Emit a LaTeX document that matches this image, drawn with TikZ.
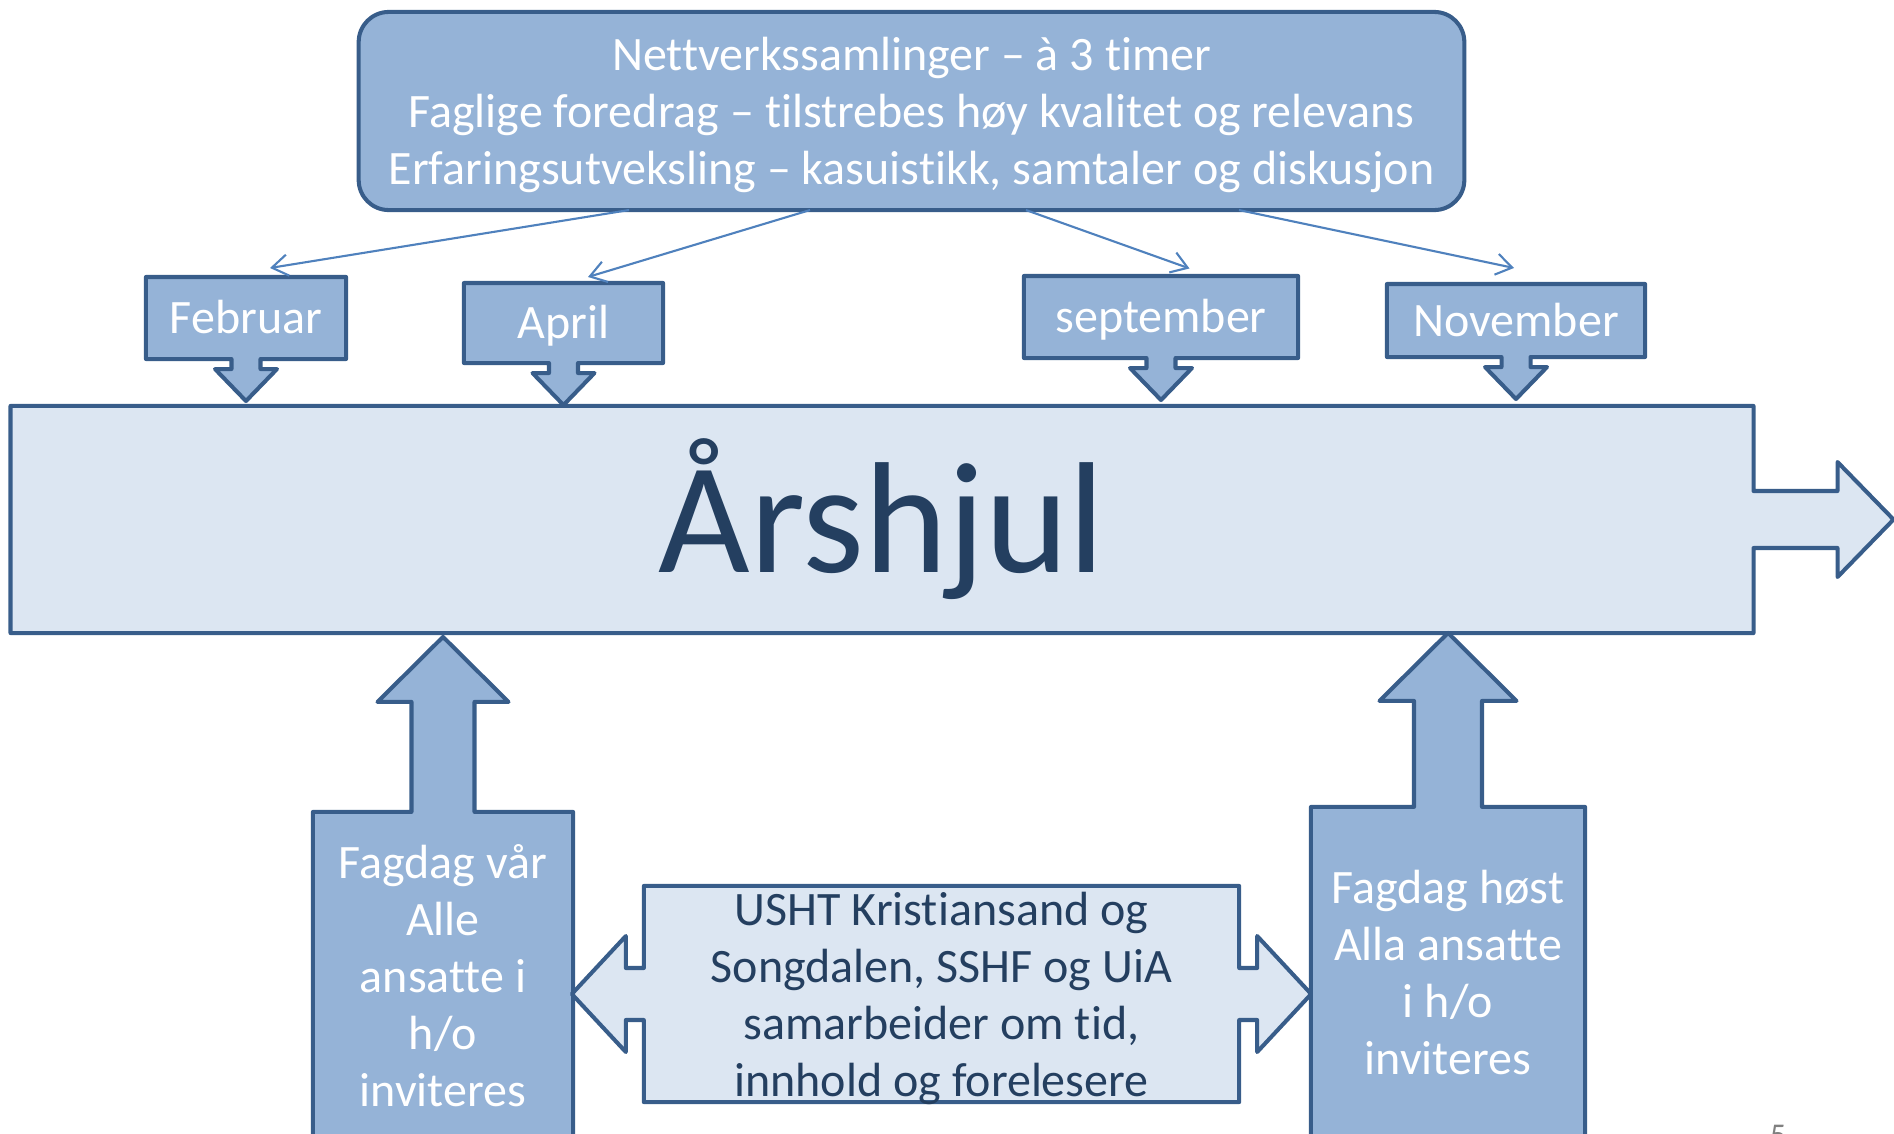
\documentclass[tikz,border=0pt]{standalone}
\usepackage{fontspec}
\setmainfont{Carlito}[Ligatures=NoCommon]
\usetikzlibrary{arrows.meta,positioning,calc,backgrounds}

\definecolor{boxblue}{HTML}{95B3D7}
\definecolor{edgeblue}{HTML}{385D8A}
\definecolor{paleblue}{HTML}{DCE6F2}
\definecolor{linkblue}{HTML}{4F81BD}
\definecolor{navytext}{HTML}{243F60}

% down arrow hanging under a month box
\newcommand{\downcallout}[1]{%
  \filldraw[callout] (#1.north west) -- (#1.north east) -- (#1.south east)
    -- ($(#1.south)+(14.5,0)$) -- ++(0,10) -- ++(16.5,0) -- ($(#1.south)+(0,42)$)
    -- ($(#1.south)+(-31,10)$) -- ++(16.5,0) -- ++(0,-10) -- (#1.south west) -- cycle;}
% up arrow on top of a fagdag box: name, stem half, stem length, head half, head length
\newcommand{\upcallout}[5]{%
  \filldraw[callout] (#1.south west) -- (#1.north west) -- ($(#1.north)+(-#2,0)$)
    -- ++(0,-#3) -- ++({#2-#4},0) -- ++(#4,-#5) -- ++(#4,#5) -- ++({#2-#4},0)
    -- ++(0,#3) -- (#1.north east) -- (#1.south east) -- cycle;}

\begin{document}
\begin{tikzpicture}[x=0.01cm, y=-0.01cm,
    every node/.style={font=\fontsize{13.65}{16.2}\selectfont, align=center, inner sep=0pt, outer sep=0pt},
    callout/.style={fill=boxblue, draw=edgeblue, line width=1.15pt, line join=round},
    topbox/.style={callout, rounded corners=0.3cm, text=white, text depth=0pt},
    month/.style={text=white},
    monthlabel/.style={month, text height=0.89em, text depth=0pt},
    paletext/.style={text=navytext},
    link/.style={draw=linkblue, line width=0.6pt, -{Straight Barb[length=4.5pt,width=6pt]}}]
  \useasboundingbox (0,0) rectangle (1894,1133);

  \node[topbox, minimum width=11.05cm, minimum height=1.98cm] (net) at (911.5,111)
    {Nettverkssamlinger – à 3 timer\\Faglige foredrag – tilstrebes høy kvalitet og relevans\\Erfaringsutveksling – kasuistikk, samtaler og diskusjon};

  \node[monthlabel, minimum width=2cm, minimum height=0.82cm] (feb) at (246,318) {Februar};
  \node[monthlabel, minimum width=1.99cm, minimum height=0.8cm] (apr) at (563.5,323) {April};
  \node[monthlabel, minimum width=2.74cm, minimum height=0.82cm] (sep) at (1161,317) {september};
  \node[monthlabel, minimum width=2.58cm, minimum height=0.73cm] (nov) at (1516,320.5) {November};

  \node[paletext, font=\fontsize{45}{54}\selectfont, minimum width=17.42cm, minimum height=2.27cm] (hjul) at (882,519.5) {Årshjul};

  \node[month, minimum width=2.6cm, minimum height=3.28cm] (vaar) at (443,976) {Fagdag vår\\Alle\\ansatte i\\h/o\\inviteres};
  \node[month, minimum width=2.74cm, minimum height=3.31cm] (host) at (1448,972.5) {Fagdag høst\\Alla ansatte\\i h/o\\inviteres};
  \node[paletext, text depth=0pt, minimum width=5.95cm, minimum height=2.16cm] (samarb) at (941.5,994)
    {USHT Kristiansand og\\Songdalen, SSHF og UiA\\samarbeider om tid,\\innhold og forelesere};

  \node[anchor=north west, text=gray, font=\fontsize{9}{11}\selectfont] (slidenr) at (1770,1125) {5};

  \begin{scope}[on background layer]
    \downcallout{feb} \downcallout{apr} \downcallout{sep} \downcallout{nov}
    % the year bar with its arrow to the right
    \filldraw[callout, fill=paleblue] (hjul.north west) -- (hjul.north east)
      -- ($(hjul.east)+(0,-28.5)$) -- ++(84,0) -- ++(0,-29) -- ($(hjul.east)+(140,0)$)
      -- ($(hjul.east)+(84,57.5)$) -- ++(0,-29) -- ++(-84,0) -- (hjul.south east)
      -- (hjul.south west) -- cycle;
    \upcallout{vaar}{31.5}{110}{65.5}{65}
    \upcallout{host}{34}{106}{68.5}{68}
    % double arrow between the two fagdager
    \filldraw[callout, fill=paleblue] (samarb.north west) -- (samarb.north east)
      -- ($(samarb.east)+(0,-26)$) -- ++(18,0) -- ++(0,-32) -- ($(samarb.east)+(72,0)$)
      -- ($(samarb.east)+(18,58)$) -- ++(0,-32) -- ++(-18,0) -- (samarb.south east)
      -- (samarb.south west) -- ($(samarb.west)+(0,26)$) -- ++(-18,0) -- ++(0,32)
      -- ($(samarb.west)+(-72,0)$) -- ($(samarb.west)+(-18,-58)$) -- ++(0,32)
      -- ++(18,0) -- cycle;
  \end{scope}

  \draw[link] ($(net.south)+(-282.5,0)$) -- ($(feb.north)+(24,-9)$);
  \draw[link] ($(net.south)+(-101.5,0)$) -- ($(apr.north)+(24.5,-6)$);
  \draw[link] ($(net.south)+(114.5,0)$) -- ($(sep.north)+(28.5,-7.5)$);
  \draw[link] ($(net.south)+(327.5,0)$) -- ($(nov.north)+(-2,-16)$);
\end{tikzpicture}
\end{document}
